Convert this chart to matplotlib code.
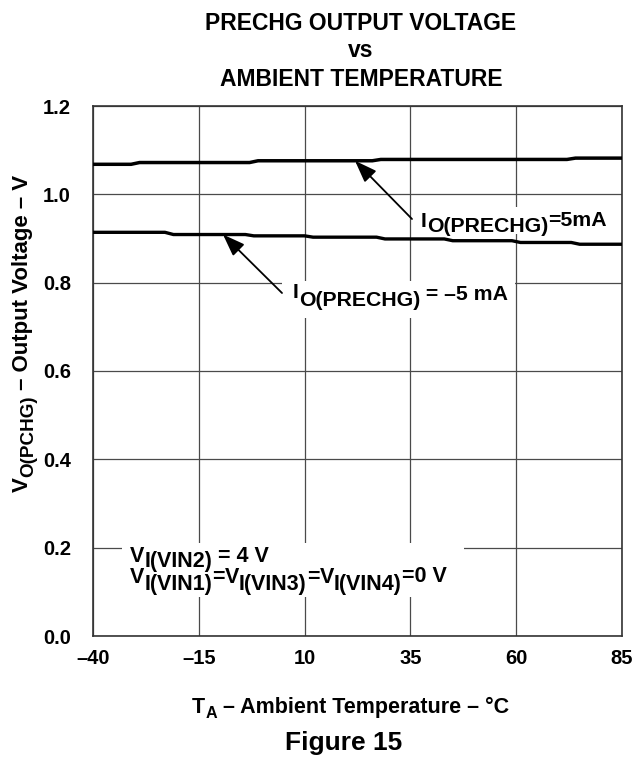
import matplotlib
matplotlib.use("Agg")
import matplotlib.pyplot as plt
import numpy as np
from matplotlib.patches import Rectangle
from matplotlib.transforms import IdentityTransform

plt.rcParams['font.family'] = ['Liberation Sans', 'DejaVu Sans']
plt.rcParams['font.weight'] = 'bold'

# ---------------- data ----------------
temp_upper = [-40, -31, -29, -3, -1, 26, 28, 72, 74, 85]
v_upper = [1.068, 1.068, 1.072, 1.072, 1.076, 1.076, 1.079, 1.079, 1.082, 1.082]

temp_lower = [-40, -23, -21, -4, -2, 10, 12, 27, 29, 43, 45, 59, 61, 73, 75, 85]
v_lower = [0.914, 0.914, 0.909, 0.909, 0.906, 0.906, 0.903, 0.903, 0.899, 0.899,
           0.895, 0.895, 0.891, 0.891, 0.887, 0.887]

x_ticks = [-40, -15, 10, 35, 60, 85]
x_tick_labels = ['\u201340', '\u201315', '10', '35', '60', '85']
y_ticks = [0.0, 0.2, 0.4, 0.6, 0.8, 1.0, 1.2]
y_tick_labels = ['0.0', '0.2', '0.4', '0.6', '0.8', '1.0', '1.2']

title_lines = ['PRECHG OUTPUT VOLTAGE', 'vs', 'AMBIENT TEMPERATURE']
figure_caption = 'Figure 15'

# ---------------- layout ----------------
W, H, DPI = 633, 758, 100
fig = plt.figure(figsize=(W / DPI, H / DPI), dpi=DPI)
L, R, T, B = 93, 622, 106, 636
ax = fig.add_axes([L / W, 1 - B / H, (R - L) / W, (B - T) / H])

ax.plot(temp_upper, v_upper, color='black', lw=2.5, solid_joinstyle='round',
        solid_capstyle='butt', zorder=3)
ax.plot(temp_lower, v_lower, color='black', lw=2.4, solid_joinstyle='round',
        solid_capstyle='butt', zorder=3)

ax.set_xlim(-40, 85)
ax.set_ylim(0, 1.2)
ax.set_xticks(x_ticks)
ax.set_xticklabels(x_tick_labels)
ax.set_yticks(y_ticks)
ax.set_yticklabels(y_tick_labels)
ax.grid(True, color='#4a4a4a', lw=0.9)
ax.set_axisbelow(True)
ax.tick_params(length=0, labelsize=14.5)
ax.tick_params(axis='x', pad=9)
ax.tick_params(axis='y', pad=16)
for lab in ax.get_xticklabels() + ax.get_yticklabels():
    lab.set_fontweight('bold')
for sp in ax.spines.values():
    sp.set_color('#333333')
    sp.set_linewidth(1.2)


def px2data(x, y):
    return (-40 + (x - L) / (R - L) * 125.0, (B - y) / (B - T) * 1.2)


def white_box(x0, y0, x1, y1):
    ax.add_patch(Rectangle((x0, H - y1), x1 - x0, y1 - y0, transform=IdentityTransform(),
                           facecolor='white', edgecolor='none', zorder=1.2))


def rich(x, y, pieces, size, rotation=0):
    prev = None
    for s, drop, sc in pieces:
        kw = dict(fontsize=size * sc, fontweight='bold', ha='left', va='baseline',
                  zorder=5, annotation_clip=False, color='black')
        if rotation == 0:
            off = (0, -drop * 0.72)
            if prev is None:
                a = ax.annotate(s, xy=(x, H - y), xycoords='figure pixels',
                                xytext=off, textcoords='offset points', **kw)
            else:
                a = ax.annotate(s, xy=(1, H - y), xycoords=(prev, 'figure pixels'),
                                xytext=off, textcoords='offset points', **kw)
        else:
            off = (drop * 0.72, 0)
            if prev is None:
                a = ax.annotate(s, xy=(x, H - y), xycoords='figure pixels',
                                xytext=off, textcoords='offset points',
                                rotation=90, rotation_mode='anchor', **kw)
            else:
                a = ax.annotate(s, xy=(x, 1), xycoords=('figure pixels', prev),
                                xytext=off, textcoords='offset points',
                                rotation=90, rotation_mode='anchor', **kw)
        prev = a


# white label backgrounds
white_box(412, 207, 614, 234)
white_box(282, 281, 515, 318)
white_box(122, 543, 464, 597)

# arrows
arrow_kw = dict(arrowstyle='-|>,head_length=0.9,head_width=0.33', mutation_scale=15,
                lw=1.3, color='black', shrinkA=0, shrinkB=0)
t_up = px2data(355, 0)[0]
ax.annotate('', xy=(t_up, np.interp(t_up, temp_upper, v_upper)),
            xytext=px2data(412, 219), arrowprops=arrow_kw, zorder=4)
t_lo = px2data(223, 0)[0]
ax.annotate('', xy=(t_lo, np.interp(t_lo, temp_lower, v_lower)),
            xytext=px2data(282, 293), arrowprops=arrow_kw, zorder=4)

# labels
rich(421, 227, [('I', 0, 1), ('O(PRECHG)', 5, 1), ('=5mA', -1, 1)], 15.3)
rich(293, 297.5, [('I', 0, 1), ('O(PRECHG)', 8.5, 1), (' = \u20135 mA', 2.5, 1)], 15.3)

rich(130, 562, [('V', 0, 1), ('I(VIN2)', 5, 1), (' = 4 V', 0, 1)], 15.5)
rich(130, 583, [('V', 0, 1), ('I(VIN1)', 7, 1), ('=', 0, 1), ('V', 0, 1), ('I(VIN3)', 7, 1),
                ('=', 0, 1), ('V', 0, 1), ('I(VIN4)', 7, 1), ('=0 V', -1, 1)], 15.5)

# axis labels
rich(192, 713, [('T', 0, 1), ('A', 5, 0.75), (' \u2013 Ambient Temperature \u2013 \u00b0C', 0, 1)], 15.5)
rich(28, 492, [('V', 0, 1), ('O(PCHG)', 5, 0.85), (' \u2013 Output Voltage \u2013 V', 0, 1)], 16,
     rotation=90)

# title
for line, yb in zip(title_lines, [30, 57, 86]):
    fig.text(361 / W, 1 - yb / H, line, ha='center', va='baseline', fontsize=16.5,
             fontweight='bold')
fig.text(344 / W, 1 - 750 / H, figure_caption, ha='center', va='baseline', fontsize=19,
         fontweight='bold')

fig.savefig('out.png', dpi=DPI, facecolor='white')
